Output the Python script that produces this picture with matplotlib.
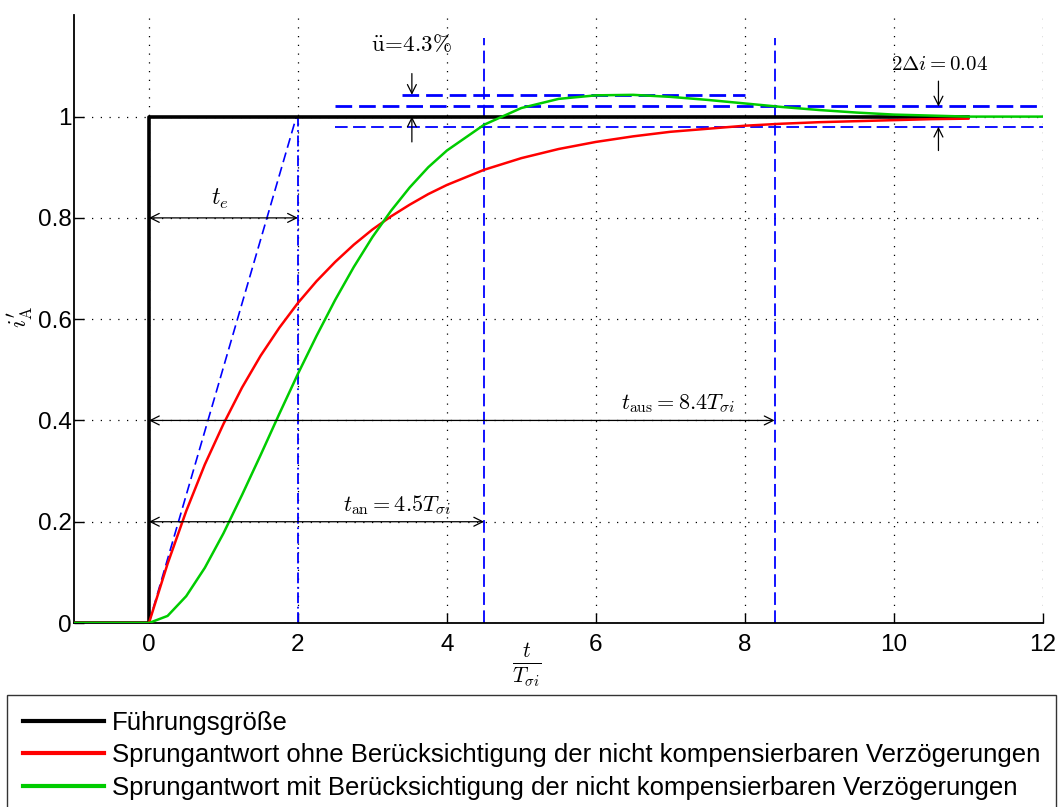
import matplotlib
matplotlib.use("Agg")
import matplotlib.pyplot as plt

plt.rcParams['font.family'] = ['Liberation Sans', 'DejaVu Sans']
plt.rcParams['mathtext.fontset'] = 'cm'

# ---- data ----
t_ref = [-1, 0, 0, 11]
y_ref = [0, 0, 1, 1]

t_resp = [-1, 0, 0.25, 0.5, 0.75, 1, 1.25, 1.5, 1.75, 2, 2.25, 2.5, 2.75, 3, 3.25,
          3.5, 3.75, 4, 4.5, 5, 5.5, 6, 6.5, 7, 7.5, 8, 8.5, 9, 9.5, 10, 10.5, 11]
y_red = [0, 0, 0.117, 0.221, 0.313, 0.393, 0.465, 0.528, 0.583, 0.632, 0.675, 0.713,
         0.747, 0.777, 0.803, 0.826, 0.847, 0.865, 0.895, 0.918, 0.936, 0.950, 0.961,
         0.970, 0.976, 0.982, 0.986, 0.989, 0.991, 0.993, 0.995, 0.996]

t_green = t_resp + [11.5, 12]
y_green = [0, 0, 0.014, 0.053, 0.109, 0.177, 0.253, 0.332, 0.413, 0.492, 0.567, 0.638,
           0.703, 0.762, 0.814, 0.860, 0.900, 0.933, 0.984, 1.017, 1.035, 1.042, 1.043,
           1.039, 1.033, 1.026, 1.019, 1.013, 1.008, 1.004, 1.002, 1.000, 1.000, 1.000]

labels = ['Führungsgröße',
          'Sprungantwort ohne Berücksichtigung der nicht kompensierbaren Verzögerungen',
          'Sprungantwort mit Berücksichtigung der nicht kompensierbaren Verzögerungen']

t_e = 2.0
t_an = 4.5
t_aus = 8.4
overshoot = 1.043
band_hi, band_lo = 1.02, 0.98

x_ticks = [0, 2, 4, 6, 8, 10, 12]
y_ticks = [0, 0.2, 0.4, 0.6, 0.8, 1.0]
y_ticklabels = ['0', '0.2', '0.4', '0.6', '0.8', '1']

# ---- figure ----
fig = plt.figure(figsize=(10.64, 8.07), dpi=100)
ax = fig.add_axes([0.070, 0.228, 0.910, 0.753])

blue = '#0000ff'
dash = (0, (7, 3))

# blue construction lines
ax.plot([0, 1.98], [0, 1], color=blue, lw=1.2, linestyle=(0, (6, 3)), zorder=2)
ax.plot([t_e, t_e], [0, 1], color=blue, lw=1.3, linestyle=(0, (6, 2, 1, 2)), zorder=2)
ax.plot([t_an, t_an], [0, 1.155], color=blue, lw=1.3, linestyle=dash, zorder=2)
ax.plot([t_aus, t_aus], [0, 1.155], color=blue, lw=1.3, linestyle=dash, zorder=2)
ax.plot([2.5, 12], [band_hi, band_hi], color=blue, lw=2.0, linestyle=(0, (6, 2.5)), zorder=2)
ax.plot([2.5, 12], [band_lo, band_lo], color=blue, lw=1.3, linestyle=(0, (7, 3)), zorder=2)
ax.plot([3.4, 8.0], [overshoot, overshoot], color=blue, lw=2.0, linestyle=(0, (6, 2.5)), zorder=2)

# curves
l1, = ax.plot(t_ref, y_ref, color='black', lw=2.6, zorder=3)
l2, = ax.plot(t_resp, y_red, color='#ff0000', lw=1.8, zorder=4)
l3, = ax.plot(t_green, y_green, color='#00cc00', lw=1.8, zorder=5)

# arrows
ap2 = dict(arrowstyle='<->', color='black', lw=0.9, mutation_scale=16, shrinkA=0, shrinkB=0)
ax.annotate('', xy=(t_e, 0.8), xytext=(0, 0.8), arrowprops=ap2, zorder=6)
ax.annotate('', xy=(t_an, 0.2), xytext=(0, 0.2), arrowprops=ap2, zorder=6)
ax.annotate('', xy=(t_aus, 0.4), xytext=(0, 0.4), arrowprops=ap2, zorder=6)

ap1 = dict(arrowstyle='->', color='black', lw=0.9, mutation_scale=16, shrinkA=0, shrinkB=0)
ax.annotate('', xy=(3.53, overshoot), xytext=(3.53, 1.085), arrowprops=ap1, zorder=6)
ax.annotate('', xy=(3.53, 1.0), xytext=(3.53, 0.95), arrowprops=ap1, zorder=6)
ax.annotate('', xy=(10.6, band_hi), xytext=(10.6, 1.07), arrowprops=ap1, zorder=6)
ax.annotate('', xy=(10.6, band_lo), xytext=(10.6, 0.933), arrowprops=ap1, zorder=6)

# texts
ax.text(0.95, 0.813, r'$t_e$', fontsize=17, ha='center', va='bottom')
ax.text(3.33, 0.21, r'$t_{\mathrm{an}} = 4.5T_{\sigma i}$', fontsize=16, ha='center', va='bottom')
ax.text(7.1, 0.41, r'$t_{\mathrm{aus}} = 8.4T_{\sigma i}$', fontsize=16, ha='center', va='bottom')
ax.text(3.53, 1.12, r'$\ddot{\mathrm{u}}\!=\!4.3\%$', fontsize=16.5, ha='center', va='bottom')
ax.text(10.62, 1.085, r'$2\Delta i = 0.04$', fontsize=15, ha='center', va='bottom')

# axes styling
ax.set_xlim(-1, 12)
ax.set_ylim(0, 1.2)
ax.set_xticks(x_ticks)
ax.set_yticks(y_ticks)
ax.set_yticklabels(y_ticklabels)
ax.tick_params(direction='in', length=7, width=1, labelsize=17.5)
ax.tick_params(axis='x', pad=8)
ax.tick_params(axis='y', pad=2)
ax.spines['top'].set_visible(False)
ax.spines['right'].set_visible(False)
for s in ('left', 'bottom'):
    ax.spines[s].set_linewidth(1.3)
ax.grid(True, color='black', linestyle=(0, (1, 6)), linewidth=0.9)

ax.set_xlabel(r'$\frac{t}{T_{\sigma i}}$', fontsize=22)
ax.xaxis.set_label_coords(0.467, -0.03)
ax.set_ylabel(r"$i^{\prime}_{\mathrm{A}}$", fontsize=17, rotation=90)
ax.yaxis.set_label_coords(-0.041, 0.503)

leg = fig.legend([l1, l2, l3], labels, loc='upper left',
                 bbox_to_anchor=(7 / 1064, 1 - 695 / 807), fontsize=18.5,
                 frameon=True, fancybox=False, edgecolor='black',
                 handlelength=3.15, handletextpad=0.3, labelspacing=0.33,
                 borderpad=0.62, borderaxespad=0)
leg.get_frame().set_linewidth(1.0)
for h in leg.get_lines():
    h.set_linewidth(3)

fig.savefig('out.png', dpi=100)
